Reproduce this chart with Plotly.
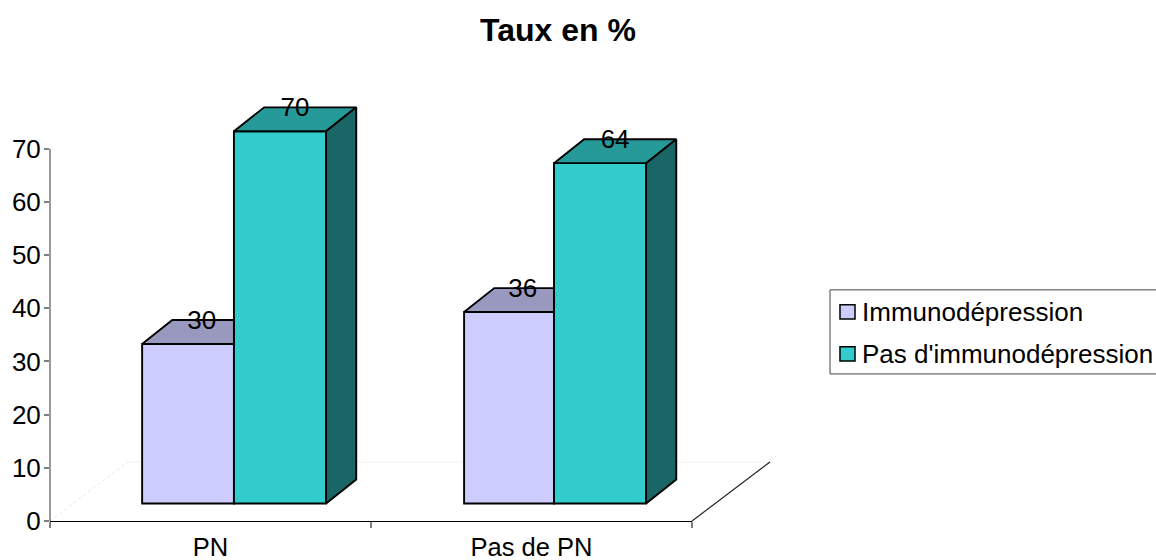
import plotly.graph_objects as go

# Chart content
title = "Taux en %"
categories = ["PN", "Pas de PN"]
series_names = ["Immunodépression", "Pas d'immunodépression"]
immuno = [30, 36]
pas_immuno = [70, 64]
y_ticks = [0, 10, 20, 30, 40, 50, 60, 70]

# Colours per series: front, top and side faces
front = ["#CCCCFF", "#33CCCC"]
top = ["#9999BF", "#269999"]
side_pas = "#1A6666"

FONT = "Liberation Sans"
BASE = 3.3          # height of the bar foot above the axis floor
DEPTH_X = 0.094     # oblique depth of a bar, x units
DEPTH_Y = 4.5       # oblique depth of a bar, y units
LABEL_DROP = 0.4    # value labels hang slightly below the back edge
FLOOR_X = 0.243
FLOOR_Y = 11.1
IMMUNO_LEFT = [0.287, 1.29]
IMMUNO_W = [0.286, 0.28]
PAS_LEFT = [0.573, 1.57]
PAS_W = 0.287
X_MAX = 2
TICK_MAX = 70
Y_MAX = 82          # room above the last tick for the oblique tops
PX_PER_UNIT = 372 / 70
OUTLINE = dict(color="black", width=1.9)

fig = go.Figure()


def face(xs, ys, colour):
    fig.add_trace(go.Scatter(
        x=xs + xs[:1], y=ys + ys[:1], mode="lines", fill="toself", fillcolor=colour,
        line=OUTLINE, showlegend=False, hoverinfo="skip"))


# Front faces are ordinary bars lifted off the axis floor
fig.add_trace(go.Bar(
    x=[l + w / 2 for l, w in zip(IMMUNO_LEFT, IMMUNO_W)], y=immuno, base=BASE, width=IMMUNO_W,
    marker=dict(color=front[0], line=OUTLINE), name=series_names[0], showlegend=False))
fig.add_trace(go.Bar(
    x=[l + PAS_W / 2 for l in PAS_LEFT], y=pas_immuno, base=BASE, width=PAS_W,
    marker=dict(color=front[1], line=OUTLINE), name=series_names[1], showlegend=False))

# Top faces; the first series stops where the taller neighbour hides it
for left, w, v in zip(IMMUNO_LEFT, IMMUNO_W, immuno):
    right = left + w
    high = BASE + v
    face([left, left + DEPTH_X, right, right],
         [high, high + DEPTH_Y, high + DEPTH_Y, high], top[0])

# Second series gets a full top face and a side face
for left, v in zip(PAS_LEFT, pas_immuno):
    right = left + PAS_W
    high = BASE + v
    face([left, left + DEPTH_X, right + DEPTH_X, right],
         [high, high + DEPTH_Y, high + DEPTH_Y, high], top[1])
    face([right, right + DEPTH_X, right + DEPTH_X, right],
         [BASE, BASE + DEPTH_Y, high + DEPTH_Y, high], side_pas)

# Value labels sit on the back edge of each top face
fig.add_trace(go.Scatter(
    x=[l + w / 2 + DEPTH_X / 2 - 0.004 for l, w in zip(IMMUNO_LEFT, IMMUNO_W)] +
      [l + PAS_W / 2 + DEPTH_X / 2 for l in PAS_LEFT],
    y=[BASE + v + DEPTH_Y - LABEL_DROP for v in immuno + pas_immuno],
    mode="text", text=[str(v) for v in immuno + pas_immuno], textposition="middle center",
    textfont=dict(family=FONT, size=26, color="black"),
    showlegend=False, hoverinfo="skip"))


def paper_line(x0, y0, x1, y1, layer="below", **line):
    return dict(type="line", xref="paper", yref="paper", layer=layer,
                x0=x0 / X_MAX, y0=y0 / Y_MAX, x1=x1 / X_MAX, y1=y1 / Y_MAX, line=line)


shapes = [
    paper_line(0, 0, FLOOR_X, FLOOR_Y, color="#E4E4E4", width=1, dash="dot"),
    paper_line(FLOOR_X, FLOOR_Y, X_MAX + FLOOR_X, FLOOR_Y, color="#EFEFEF", width=1),
    paper_line(X_MAX, 0, X_MAX + FLOOR_X, FLOOR_Y, color="#222222", width=1.2),
    # the value axis stops at its last tick, below the top of the plot area
    paper_line(0, 0, 0, TICK_MAX, layer="above", color="#808080", width=1.6),
    dict(type="rect", xref="paper", yref="paper", x0=1.215, x1=1.73,
         y0=27.66 / Y_MAX, y1=43.47 / Y_MAX,
         line=dict(color="#444444", width=1), fillcolor="white"),
]

# Key on the right: box, swatches and series names
annotations = []
for i, name in enumerate(series_names):
    cy = 39.33 - i * 7.9
    shapes.append(dict(type="rect", xref="paper", yref="paper",
                       x0=1.2305, x1=1.2539, y0=(cy - 1.32) / Y_MAX, y1=(cy + 1.32) / Y_MAX,
                       line=dict(color="black", width=1.5), fillcolor=front[i]))
    annotations.append(dict(text=name, xref="paper", yref="paper", x=1.2648, y=cy / Y_MAX,
                            xanchor="left", yanchor="middle", showarrow=False, xshift=-2,
                            font=dict(family=FONT, size=26, color="black")))

fig.update_layout(
    width=1156, height=560,
    margin=dict(l=50, r=464, t=521 - Y_MAX * PX_PER_UNIT, b=39),
    paper_bgcolor="white", plot_bgcolor="rgba(0,0,0,0)", barmode="overlay", showlegend=False,
    font=dict(family=FONT, size=26, color="black"),
    title=dict(text="<b>" + title + "</b>", x=558 / 1156, y=1 - 30 / 560, xref="container",
               yref="container", xanchor="center", yanchor="middle", automargin=False,
               font=dict(family=FONT, size=32, color="black")),
    shapes=shapes, annotations=annotations,
    xaxis=dict(range=[0, X_MAX], tickmode="array", tickvals=[0.5, 1.5], ticktext=categories,
               tickfont=dict(family=FONT, size=25.5),
               ticks="", showgrid=False, zeroline=False, showline=True, linecolor="black",
               linewidth=1.4, automargin=False, ticklabelstandoff=3,
               minor=dict(tickmode="array", tickvals=[0, 1, 2], ticks="outside", ticklen=6,
                          tickcolor="#808080", tickwidth=1.6, showgrid=False)),
    yaxis=dict(range=[0, Y_MAX], tickmode="array", tickvals=y_ticks, ticks="outside", ticklen=5,
               tickcolor="#808080", tickwidth=1.6, showgrid=False, zeroline=False,
               automargin=False, showline=False, ticklabelstandoff=-2),
)

fig.write_html("out.html", config=dict(displayModeBar=False))
